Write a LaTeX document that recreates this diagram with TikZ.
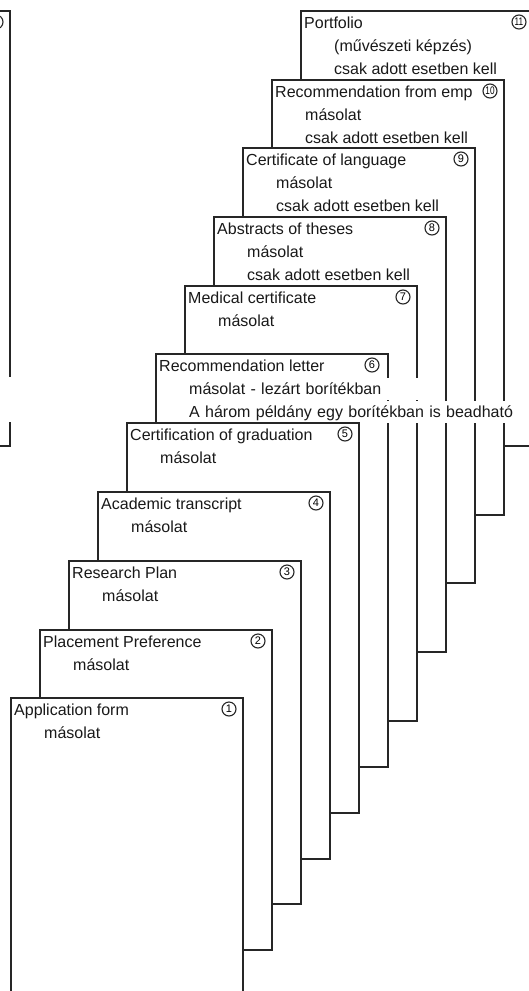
\documentclass[tikz,border=0pt]{standalone}
\usepackage{fontspec}
\setmainfont{Liberation Sans}
\usepackage{tikz}
\usetikzlibrary{positioning}
\tikzset{Page/.style={%
    draw=black!85,%
    fill=white,%
    line width=1.6pt,%
    anchor=north west,%
    minimum width=232pt,%
    inner sep=0pt,%
}}
\tikzset{Title/.style={%
    anchor=base west,%
    inner sep=0pt,%
    text=black!90,%
    font=\fontsize{16}{18}\selectfont,%
}}
\tikzset{Note/.style={%
    Title,%
}}
\tikzset{Cover/.style={%
    Note,%
    fill=white,%
    text width=#1,%
    align=left,%
    text height=16pt,%
    text depth=6pt,%
}}
\tikzset{NumBadge/.style={%
    circle,%
    draw=black!85,%
    line width=1.1pt,%
    minimum size=14pt,%
    inner sep=0pt,%
    font=\fontsize{11}{11}\selectfont,%
}}
\NewDocumentCommand{\badgeNum}{s m}{%
    \IfBooleanTF{#1}{%
        \scalebox{0.75}[1]{#2}%
    }{%
        #2%
    }%
}

\begin{document}
\begin{tikzpicture}[x=1pt, y=-1pt]
    \useasboundingbox (0,0) rectangle (529,991);
    \clip (0,0) rectangle (529,991);

    % page cut off at the left edge
    \node[Page, minimum height=435pt] (p12) at (-223,10) {};
    \node[NumBadge] (b12) at (-4,22) {};
    \fill[white] (0,377) rectangle (20,422);

    \node[Page, minimum height=435pt] (p11) at (300,10) {};
    \node[Title] (t11) at (304,28) {Portfolio};
    \node[Note] (n11a) at (334,51) {(művészeti képzés)};
    \node[Note] (n11b) at (334,74) {csak adott esetben kell};
    \node[NumBadge] (b11) at (519,22) {\badgeNum*{11}};

    \node[Page, minimum height=435pt] (p10) at (271,79) {};
    \node[Title] (t10) at (275,97) {Recommendation from emp};
    \node[Note] (n10a) at (305,120) {másolat};
    \node[Note] (n10b) at (305,143) {csak adott esetben kell};
    \node[NumBadge] (b10) at (490,91) {\badgeNum*{10}};

    \node[Page, minimum height=435pt] (p9) at (242,147) {};
    \node[Title] (t9) at (246,165) {Certificate of language};
    \node[Note] (n9a) at (276,188) {másolat};
    \node[Note] (n9b) at (276,211) {csak adott esetben kell};
    \node[NumBadge] (b9) at (461,159) {\badgeNum{9}};

    \node[Page, minimum height=435pt] (p8) at (213,216) {};
    \node[Title] (t8) at (217,234) {Abstracts of theses};
    \node[Note] (n8a) at (247,257) {másolat};
    \node[Note] (n8b) at (247,280) {csak adott esetben kell};
    \node[NumBadge] (b8) at (432,228) {\badgeNum{8}};

    \node[Page, minimum height=435pt] (p7) at (184,285) {};
    \node[Title] (t7) at (188,303) {Medical certificate};
    \node[Note] (n7a) at (218,326) {másolat};
    \node[NumBadge] (b7) at (403,297) {\badgeNum{7}};

    \node[Page, minimum height=413pt] (p6) at (155,353) {};
    \node[Title] (t6) at (159,371) {Recommendation letter};
    \node[NumBadge] (b6) at (372,365) {\badgeNum{6}};
    \node[Cover=230pt] (n6a) at (189,394) {másolat - lezárt borítékban};
    \node[Cover=345pt] (n6b) at (189,417) {A három példány egy borítékban is beadható};

    \node[Page, minimum height=390pt] (p5) at (126,422) {};
    \node[Title] (t5) at (130,440) {Certification of graduation};
    \node[Note] (n5a) at (160,463) {másolat};
    \node[NumBadge] (b5) at (345,434) {\badgeNum{5}};

    \node[Page, minimum height=367pt] (p4) at (97,491) {};
    \node[Title] (t4) at (101,509) {Academic transcript};
    \node[Note] (n4a) at (131,532) {másolat};
    \node[NumBadge] (b4) at (316,503) {\badgeNum{4}};

    \node[Page, minimum height=343pt] (p3) at (68,560) {};
    \node[Title] (t3) at (72,578) {Research Plan};
    \node[Note] (n3a) at (102,601) {másolat};
    \node[NumBadge] (b3) at (287,572) {\badgeNum{3}};

    \node[Page, minimum height=320pt] (p2) at (39,629) {};
    \node[Title] (t2) at (43,647) {Placement Preference};
    \node[Note] (n2a) at (73,670) {másolat};
    \node[NumBadge] (b2) at (258,641) {\badgeNum{2}};

    \node[Page, minimum height=310pt] (p1) at (10,697) {};
    \node[Title] (t1) at (14,715) {Application form};
    \node[Note] (n1a) at (44,738) {másolat};
    \node[NumBadge] (b1) at (229,709) {\badgeNum{1}};
\end{tikzpicture}
\end{document}
